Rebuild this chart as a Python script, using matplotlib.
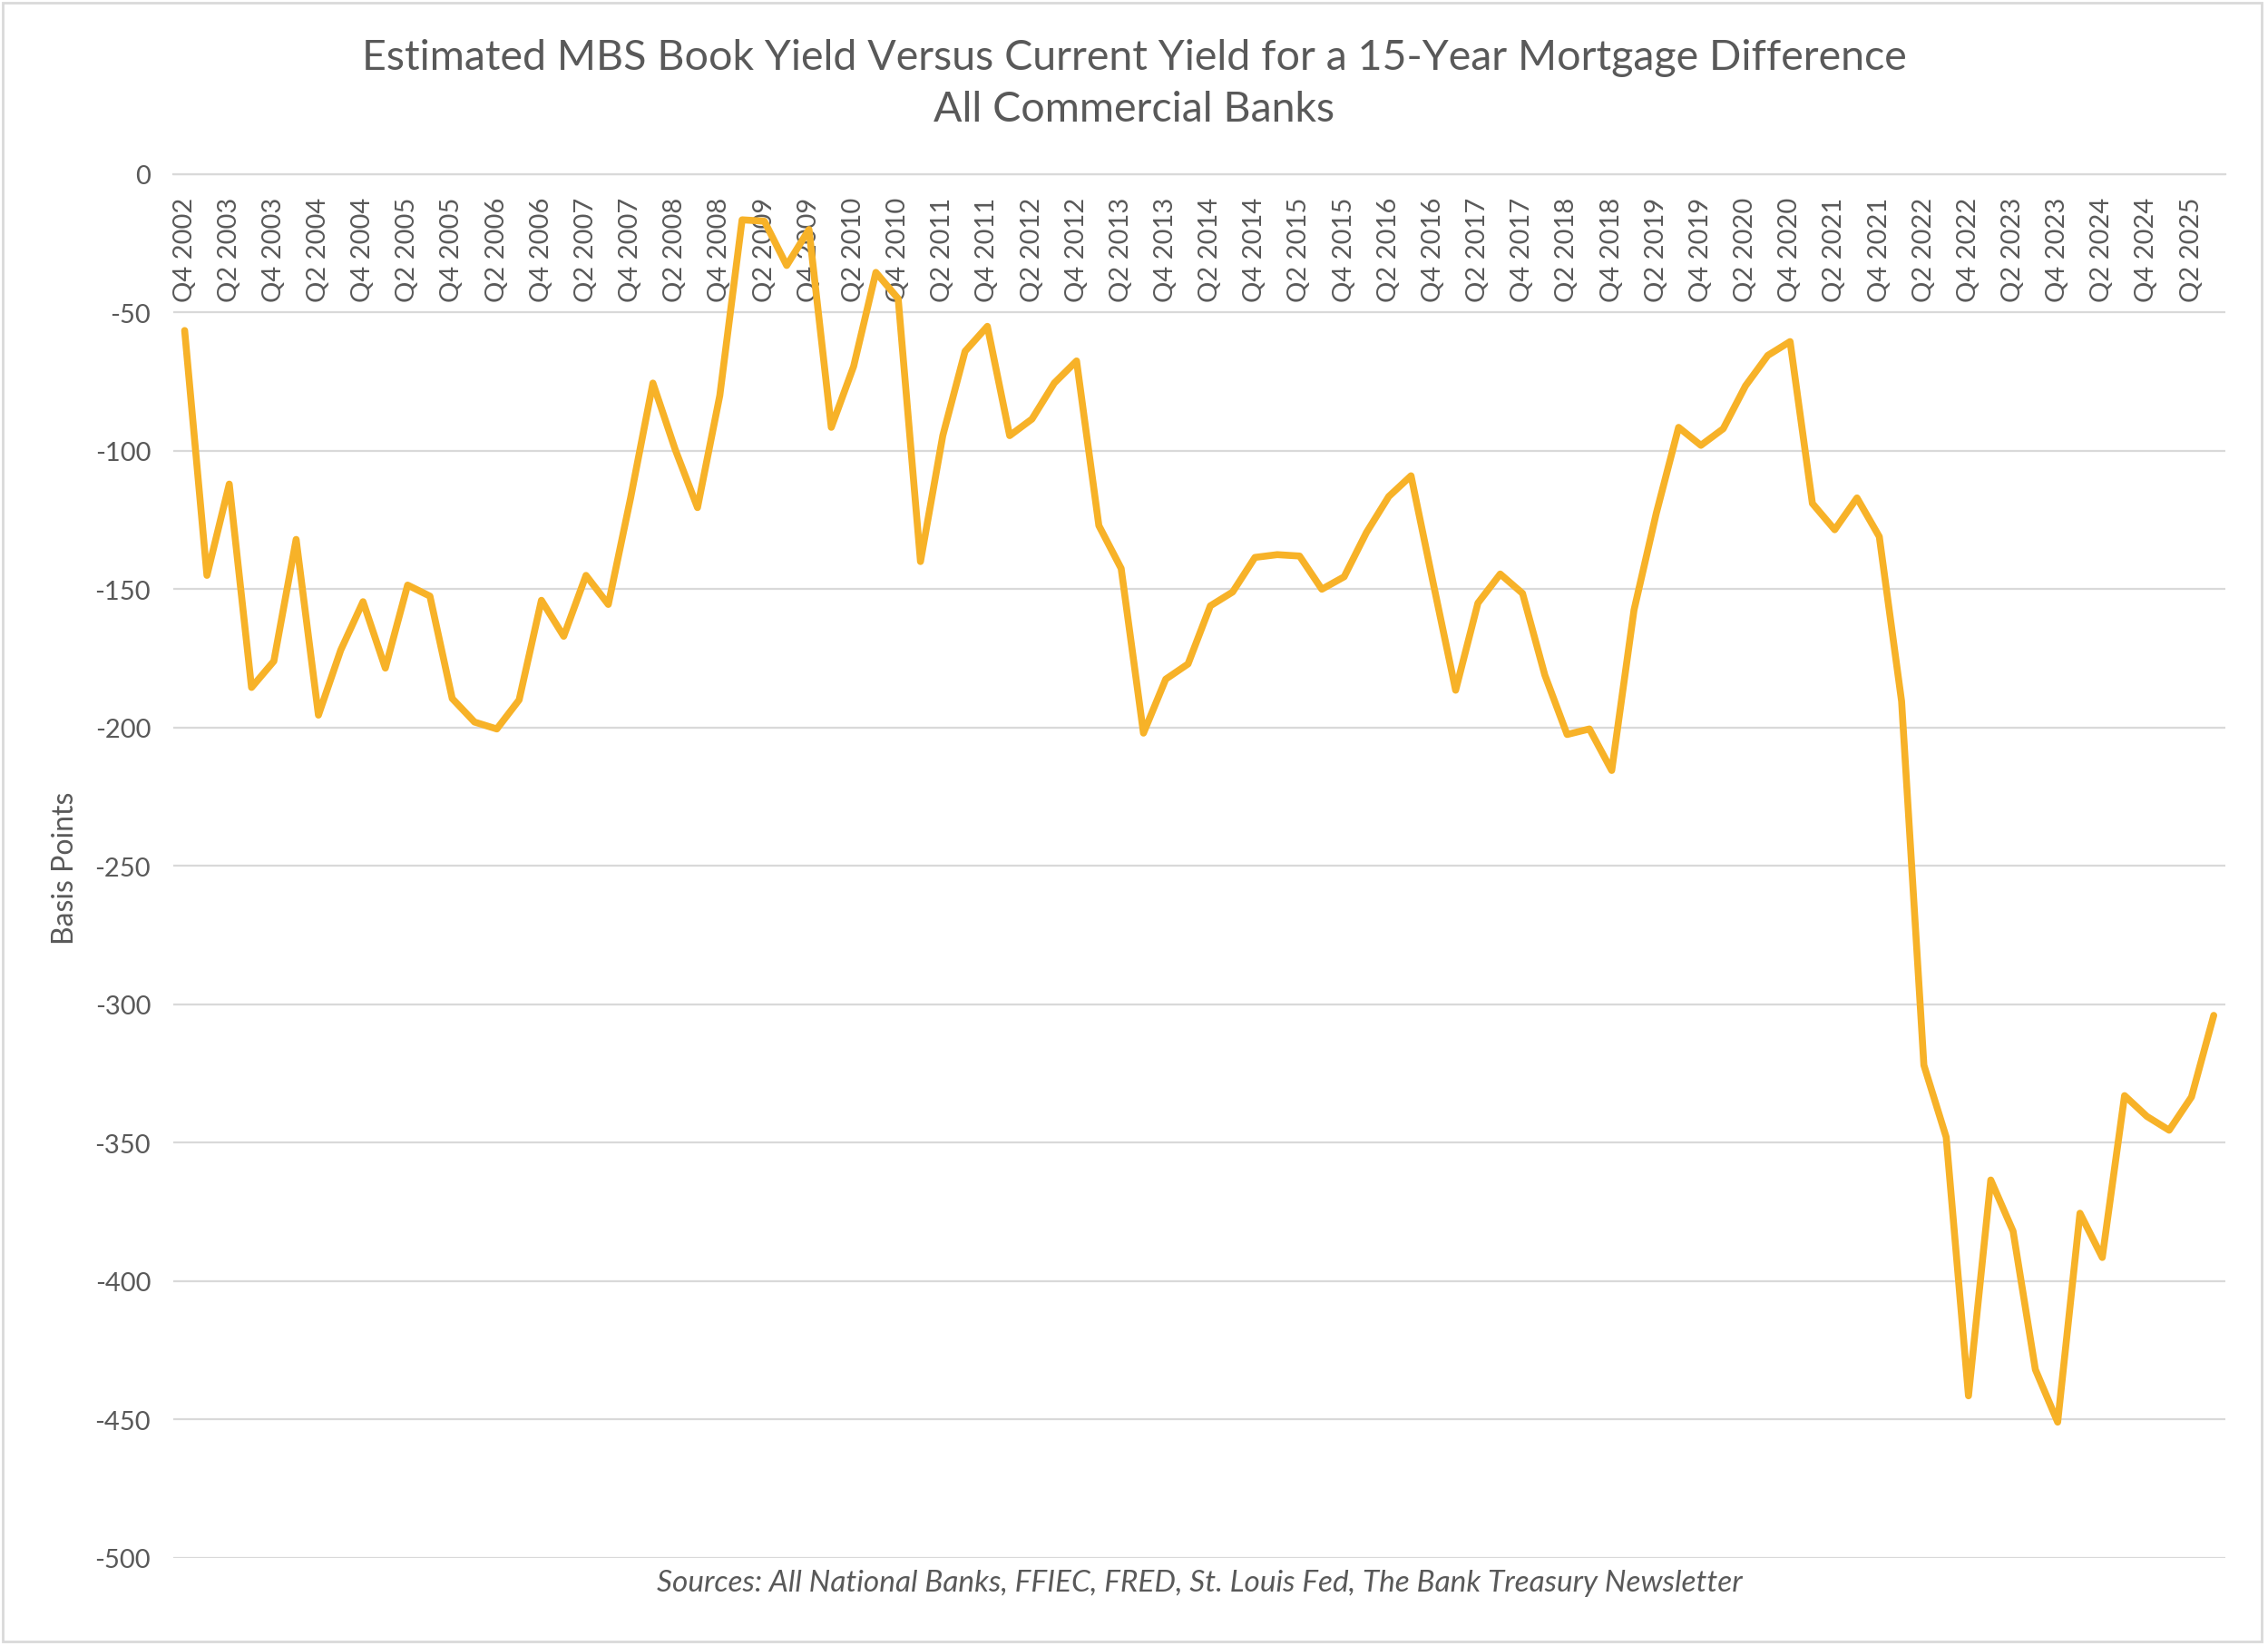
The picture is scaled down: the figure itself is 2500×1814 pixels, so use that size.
import matplotlib
matplotlib.use("Agg")
import matplotlib.pyplot as plt
from matplotlib.patches import Rectangle
from matplotlib.ticker import FuncFormatter

# quarter labels shown on the axis (every second quarter)
tick_labels = [
    "Q4 2002", "Q2 2003", "Q4 2003", "Q2 2004", "Q4 2004", "Q2 2005", "Q4 2005",
    "Q2 2006", "Q4 2006", "Q2 2007", "Q4 2007", "Q2 2008", "Q4 2008", "Q2 2009",
    "Q4 2009", "Q2 2010", "Q4 2010", "Q2 2011", "Q4 2011", "Q2 2012", "Q4 2012",
    "Q2 2013", "Q4 2013", "Q2 2014", "Q4 2014", "Q2 2015", "Q4 2015", "Q2 2016",
    "Q4 2016", "Q2 2017", "Q4 2017", "Q2 2018", "Q4 2018", "Q2 2019", "Q4 2019",
    "Q2 2020", "Q4 2020", "Q2 2021", "Q4 2021", "Q2 2022", "Q4 2022", "Q2 2023",
    "Q4 2023", "Q2 2024", "Q4 2024", "Q2 2025",
]

# book yield minus current 15y mortgage yield, basis points, Q4 2002 .. Q3 2025
spread_bp = [
    -56.5, -145, -112, -185.5, -176, -132, -195.5, -172, -154.5, -178.5,
    -148.5, -152.5, -189.5, -198, -200.5, -190, -154, -167, -145, -155.5,
    -117, -75.5, -99.5, -120.5, -80, -16.5, -17, -33, -20, -91.5,
    -69.5, -35.5, -45, -140, -94.5, -64, -55, -94.5, -88.5, -75.5,
    -67.5, -127, -142.5, -202, -182.5, -177, -156, -151, -138.5, -137.5,
    -138, -150, -145.5, -129.5, -116.5, -109, -148, -186.5, -155, -144.5,
    -151.5, -181, -202.5, -200.5, -215.5, -157.5, -122.5, -91.5, -98, -92,
    -76.5, -65.5, -60.5, -119, -128.5, -117, -131, -190.5, -322, -348,
    -441.5, -363.5, -382, -432, -451, -375.5, -391.5, -333, -340.5, -345.5,
    -333.5, -304,
]

text_col = "#595959"
grid_col = "#d9d9d9"
line_col = "#F7B228"

plt.rcParams["font.family"] = ["Lato", "DejaVu Sans"]
plt.rcParams["axes.unicode_minus"] = False

fig = plt.figure(figsize=(25, 18.15), dpi=100)
ax = fig.add_axes([0.0765, 0.0536, 0.9045, 0.8401])

x = list(range(len(spread_bp)))
ax.plot(x, spread_bp, color=line_col, linewidth=5.5, solid_joinstyle="round",
        solid_capstyle="round", zorder=3)

# category axis crosses at 0, like the Excel original
ax.spines["bottom"].set_position(("data", 0))
ax.spines["bottom"].set_color(grid_col)
ax.spines["bottom"].set_linewidth(1.6)
for s in ["top", "left", "right"]:
    ax.spines[s].set_visible(False)

ax.set_xlim(-0.5, len(spread_bp) - 0.5)
ax.set_ylim(-500, 0)
ax.set_yticks(range(-500, 1, 50))
ax.yaxis.set_major_formatter(FuncFormatter(lambda v, p: "%d" % v))
ax.grid(axis="y", color=grid_col, linewidth=1.6, zorder=0)

ax.set_xticks(x[::2])
ax.set_xticklabels(tick_labels)
ax.tick_params(axis="both", length=0, colors=text_col, labelsize=21)
ax.tick_params(axis="x", pad=18, labelrotation=90)
ax.tick_params(axis="y", pad=18)

fig.text(0.0287, 0.4728, "Basis Points", rotation=90, ha="center", va="center",
         fontsize=23, color=text_col)
fig.text(0.5, 0.9649, "Estimated MBS Book Yield Versus Current Yield for a 15-Year Mortgage Difference",
         ha="center", va="center", fontsize=33.5, color=text_col)
fig.text(0.5, 0.9332, "All Commercial Banks", ha="center", va="center",
         fontsize=33.5, color=text_col)
fig.text(0.529, 0.0387, "Sources: All National Banks, FFIEC, FRED, St. Louis Fed, The Bank Treasury Newsletter",
         ha="center", va="center", fontsize=24, style="italic", color=text_col)

# light chart border
fig.patches.append(Rectangle((0.001, 0.003), 0.996, 0.995, transform=fig.transFigure,
                             fill=False, edgecolor=grid_col, linewidth=2))

fig.savefig("out.png", dpi=100, facecolor="white")
